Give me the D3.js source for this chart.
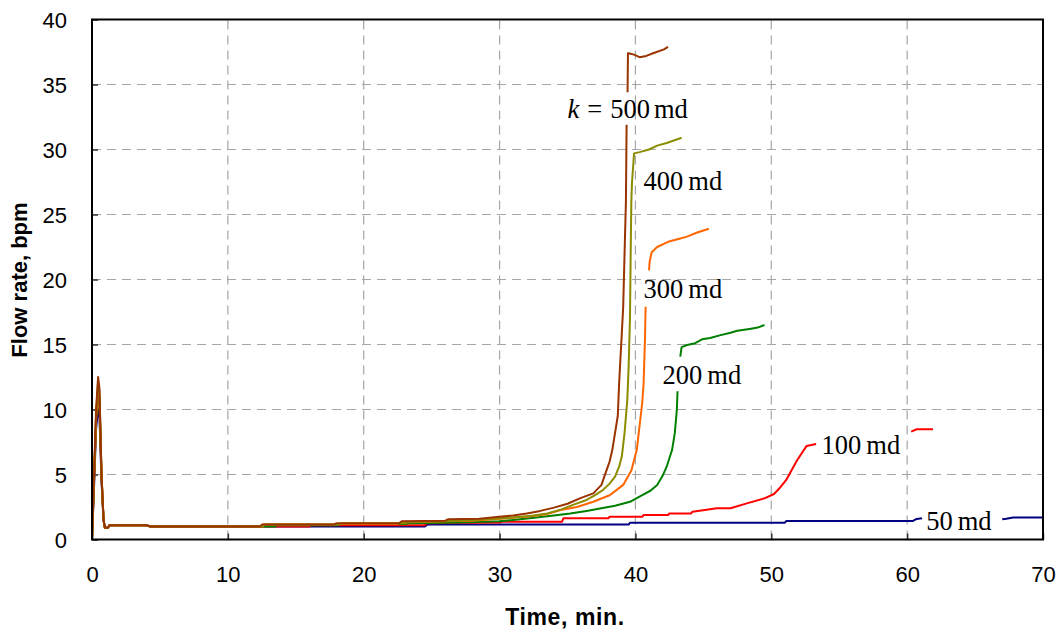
<!DOCTYPE html>
<html>
<head>
<meta charset="utf-8">
<script src="https://cdn.jsdelivr.net/npm/d3@7"></script>
<style>
  html, body { margin: 0; padding: 0; background: #fff; }
  svg { display: block; }
</style>
</head>
<body>
<svg id="chart" width="1061" height="632"></svg>
<script>
// ---------------- DATA ----------------
const xTicks = [0, 10, 20, 30, 40, 50, 60, 70];
const yTicks = [0, 5, 10, 15, 20, 25, 30, 35, 40];

const seriesNames = ["50 md", "100 md", "200 md", "300 md", "400 md", "500 md"];
const seriesColors = ["#000080", "#ff0000", "#008000", "#ff6600", "#8c8c00", "#993300"];

// time (min) and flow rate (bpm); null = break in the curve (label cut-out)
const k50_t = [0,0.15,0.3,0.45,0.55,0.7,0.85,0.95,1.15,1.3,4.0,4.3,24.5,24.7,39.5,39.6,51.0,51.1,60.4,60.7,61.1,61.2,67.0,67.3,67.8,70];
const k50_q = [0,4,8.5,10.0,9.4,4.5,1.5,0.9,0.9,1.1,1.1,1.0,1.0,1.15,1.15,1.29,1.29,1.42,1.42,1.58,1.63,null,1.55,1.6,1.7,1.7];

const k100_t = [0,0.15,0.3,0.45,0.55,0.7,0.85,0.95,1.15,1.3,4.0,4.3,16.0,16.1,24.5,24.6,30.0,30.2,34.6,34.7,38.0,38.1,40.5,40.6,42.4,42.5,44.1,44.2,45.1,46.0,47.0,48.2,49.5,50.2,50.6,51.1,51.9,52.6,53.3,53.4,60.3,60.7,61.9];
const k100_q = [0,4.5,9,11.2,10.4,4.8,1.5,0.9,0.9,1.1,1.1,1.0,1.0,1.1,1.1,1.25,1.3,1.37,1.37,1.63,1.63,1.75,1.75,1.88,1.88,2.0,2.0,2.14,2.27,2.4,2.4,2.78,3.17,3.5,3.94,4.58,6.1,7.2,7.35,null,8.3,8.48,8.48];

const k200_t = [0,0.15,0.3,0.45,0.55,0.7,0.85,0.95,1.15,1.3,4.0,4.3,13.5,13.6,18.0,18.3,23.0,23.3,27.0,30.0,31.0,32.7,34.0,35.2,36.4,37.5,38.5,39.6,40.3,41.1,41.6,42.0,42.3,42.7,42.9,43.05,43.1,43.2,43.3,43.4,43.8,44.4,44.9,45.5,46.2,47.0,47.5,48.4,49.0,49.5];
const k200_q = [0,4.5,9.2,11.6,10.8,4.9,1.5,0.9,0.9,1.1,1.1,1.0,1.0,1.1,1.1,1.2,1.2,1.25,1.3,1.4,1.5,1.7,1.85,2.0,2.2,2.4,2.6,2.9,3.3,3.75,4.2,4.9,5.6,6.9,8.2,10.0,11.4,null,14.06,14.8,14.96,15.1,15.4,15.5,15.7,15.9,16.06,16.2,16.3,16.5];

const k300_t = [0,0.15,0.3,0.45,0.55,0.7,0.85,0.95,1.15,1.3,4.0,4.3,12.5,12.6,17.8,18.0,22.5,22.7,26.0,28.0,30.0,32.0,33.5,34.5,35.7,36.9,38.1,38.6,39.1,39.7,40.1,40.3,40.5,40.6,40.7,40.75,40.85,41.0,41.05,41.2,41.6,42.4,43.1,43.8,44.5,45.4];
const k300_q = [0,4.6,9.4,11.8,11.0,5.0,1.5,0.9,0.9,1.1,1.1,1.0,1.0,1.15,1.15,1.2,1.2,1.3,1.4,1.45,1.6,1.75,1.95,2.27,2.5,2.9,3.4,3.8,4.2,5.3,6.9,8.7,10.5,12.0,15.3,17.9,null,20.7,21.4,22.1,22.5,22.9,23.1,23.3,23.6,23.9];

const k400_t = [0,0.15,0.3,0.45,0.55,0.7,0.85,0.95,1.15,1.3,4.0,4.3,12.6,12.7,18.2,18.4,23.0,23.2,27.0,29.0,31.0,32.5,33.5,34.5,35.5,36.4,37.0,37.6,38.1,38.5,38.8,39.0,39.2,39.4,39.5,39.6,39.65,39.7,39.75,39.9,40.3,41.0,41.6,42.3,43.4];
const k400_q = [0,4.7,9.6,12.2,11.3,5.0,1.5,0.9,0.9,1.1,1.1,1.0,1.0,1.15,1.15,1.25,1.25,1.35,1.45,1.55,1.7,1.85,2.0,2.3,2.7,3.04,3.4,3.8,4.3,4.83,5.6,6.4,8.2,10.7,13.3,17.1,22.0,26.1,27.5,29.7,29.8,30.0,30.3,30.5,30.9];

const k500_t = [0,0.15,0.3,0.45,0.55,0.7,0.85,0.95,1.15,1.3,4.0,4.3,12.4,12.5,17.8,18.0,22.6,22.8,26.0,26.2,28.5,30.0,31.0,32.0,33.0,34.0,35.0,36.0,36.9,37.5,37.8,38.1,38.3,38.5,38.7,38.8,38.9,39.0,39.1,39.2,39.3,39.35,39.38,39.42,39.45,39.5,39.9,40.3,40.8,41.3,42.1,42.4];
const k500_q = [0,5,10,12.5,11.6,5,1.5,0.9,0.9,1.1,1.1,1.0,1.0,1.15,1.15,1.25,1.25,1.4,1.45,1.55,1.6,1.75,1.85,2.0,2.2,2.45,2.75,3.2,3.55,4.2,5.1,6.0,6.9,8.2,9.5,12.0,14.0,15.9,17.9,22.0,26.0,31.9,null,34.4,37.4,37.4,37.3,37.1,37.2,37.4,37.7,37.9];

const seriesT = [k50_t, k100_t, k200_t, k300_t, k400_t, k500_t];
const seriesQ = [k50_q, k100_q, k200_q, k300_q, k400_q, k500_q];

// label anchor positions in data units (time, rate at baseline)
const labelT = [61.4, 53.7, 42.0, 40.6, 40.6, 35.0];
const labelQ = [0.73, 6.55, 11.96, 18.55, 26.88, 32.4];

// ---------------- CHART ----------------
const W = 1061, H = 632;
const M = { left: 92, top: 19.5, right: 18, bottom: 92.5 };
const svg = d3.select("#chart");

const x = d3.scaleLinear().domain([0, 70]).range([M.left, W - M.right]);
const y = d3.scaleLinear().domain([0, 40]).range([H - M.bottom, M.top]);

const tickFont = "'Liberation Sans', Arial, sans-serif";
const serifFont = "'Liberation Serif', 'Times New Roman', serif";

// gridlines
const grid = svg.append("g");
grid.selectAll("line.gx").data(xTicks.filter(d => d > 0 && d < 70)).join("line")
  .attr("x1", d => x(d)).attr("x2", d => x(d))
  .attr("y1", y(0)).attr("y2", y(40))
  .attr("stroke", "#a6a6a6").attr("stroke-width", 1.2).attr("stroke-dasharray", "9,6");
grid.selectAll("line.gy").data(yTicks.filter(d => d > 0 && d < 40)).join("line")
  .attr("y1", d => y(d)).attr("y2", d => y(d))
  .attr("x1", x(0)).attr("x2", x(70))
  .attr("stroke", "#a6a6a6").attr("stroke-width", 1.2).attr("stroke-dasharray", "9,6");

// axes (ticks inward, labels via axis generator)
const xAxis = d3.axisBottom(x).tickValues(xTicks).tickSizeInner(-6).tickSizeOuter(0).tickPadding(32);
const yAxis = d3.axisLeft(y).tickValues(yTicks).tickSizeInner(-6).tickSizeOuter(0).tickPadding(25);

const gx = svg.append("g").attr("transform", `translate(0,${y(0)})`).call(xAxis);
const gy = svg.append("g").attr("transform", `translate(${x(0)},0)`).call(yAxis);
[gx, gy].forEach(g => {
  g.select(".domain").remove();
  g.selectAll(".tick line").attr("stroke", "#333").attr("stroke-width", 1.5);
  g.selectAll(".tick text").attr("font-family", tickFont).attr("font-size", 22).attr("fill", "#000");
});
gx.selectAll(".tick text").attr("dy", 0).attr("y", 42);
gy.selectAll(".tick text").attr("dy", "0.36em");

// lines
const line = d3.line()
  .defined(d => d[1] !== null)
  .x(d => x(d[0])).y(d => y(d[1]));

const linesG = svg.append("g");
seriesT.forEach((ts, i) => {
  const pts = ts.map((t, j) => [t, seriesQ[i][j]]);
  linesG.append("path")
    .datum(pts)
    .attr("fill", "none")
    .attr("stroke", seriesColors[i])
    .attr("stroke-width", 2)
    .attr("stroke-linejoin", "round")
    .attr("d", line);
});

// frame
svg.append("rect")
  .attr("x", x(0)).attr("y", y(40))
  .attr("width", x(70) - x(0)).attr("height", y(0) - y(40))
  .attr("fill", "none").attr("stroke", "#000").attr("stroke-width", 2);

// curve labels
const labG = svg.append("g").attr("font-family", serifFont).attr("font-size", 26.5).attr("fill", "#000");
seriesNames.forEach((name, i) => {
  const t = labG.append("text").attr("x", x(labelT[i])).attr("y", y(labelQ[i]));
  if (i === 5) {
    t.append("tspan").attr("font-style", "italic").text("k");
    t.append("tspan").attr("dx", 8).text("=");
    t.append("tspan").attr("dx", 8).text("500");
    t.append("tspan").attr("dx", 4).text("md");
  } else {
    const parts = name.split(" ");
    t.append("tspan").text(parts[0]);
    t.append("tspan").attr("dx", 5).text(parts[1]);
  }
});

// axis titles
svg.append("text")
  .attr("x", 565).attr("y", 625)
  .attr("text-anchor", "middle")
  .attr("font-family", tickFont).attr("font-weight", "bold").attr("font-size", 23)
  .attr("letter-spacing", 0.6)
  .text("Time, min.");

svg.append("text")
  .attr("transform", "translate(27,280) rotate(-90)")
  .attr("text-anchor", "middle")
  .attr("font-family", tickFont).attr("font-weight", "bold").attr("font-size", 22)
  .text("Flow rate, bpm");
</script>
</body>
</html>
